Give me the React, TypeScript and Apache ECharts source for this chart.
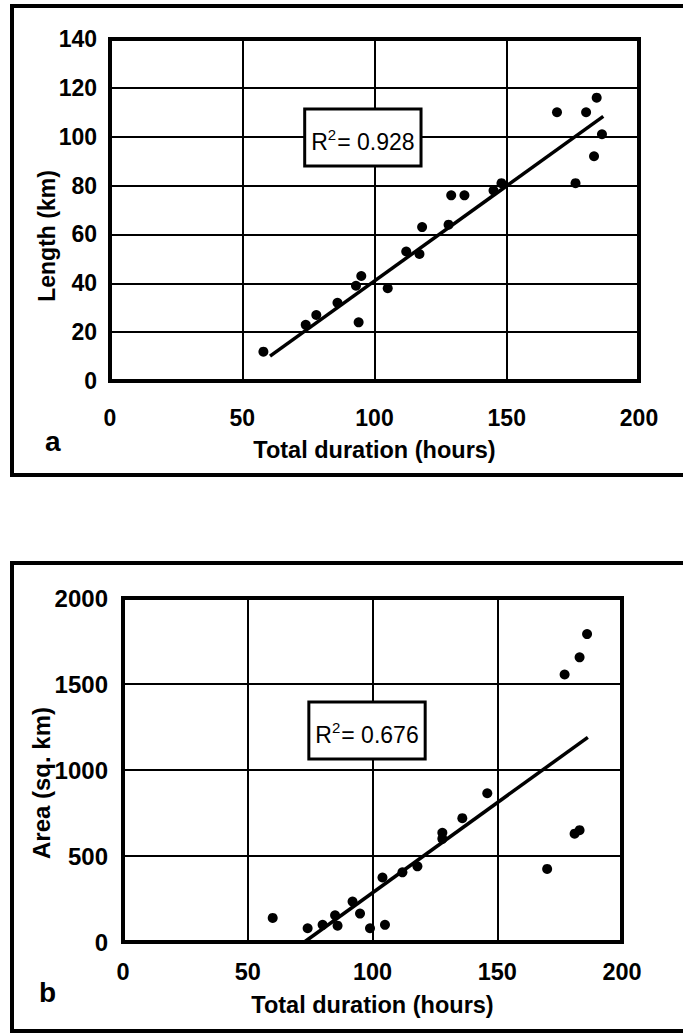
import React, { useEffect, useRef } from "react";
import * as echarts from "echarts";

// ---- Data ----
const xAxisTitle = "Total duration (hours)";
const yTitleA = "Length (km)";
const yTitleB = "Area (sq. km)";
const panelA = "a";
const panelB = "b";

// Panel a: total duration (hours) vs length (km)
const durA = [58, 74, 78, 86, 93, 95, 94, 105, 112, 117, 118, 128, 129, 134, 145, 148, 169, 180, 184, 186, 183, 176];
const lenA = [12, 23, 27, 32, 39, 43, 24, 38, 53, 52, 63, 64, 76, 76, 78, 81, 110, 110, 116, 101, 92, 81];
const trendAx = [60.5, 186.5];
const trendAy = [10.2, 108.3];
const r2A = "0.928";
const r2AAt = [95.6, 99.7];

// Panel b: total duration (hours) vs area (sq. km)
const durB = [60, 74, 80, 85, 86, 92, 95, 99, 105, 104, 112, 118, 128, 128, 136, 146, 170, 181, 183, 177, 183, 186];
const areaB = [140, 80, 100, 155, 95, 235, 165, 80, 100, 375, 405, 440, 600, 635, 720, 865, 425, 630, 650, 1555, 1655, 1790];
const trendBx = [72.7, 186.3];
const trendBy = [0, 1190];
const r2B = "0.676";
const r2BAt = [97.8, 1230];

const xMin = 0, xMax = 200, xStep = 50;
const yAMin = 0, yAMax = 140, yAStep = 20;
const yBMin = 0, yBMax = 2000, yBStep = 500;

const BOLD = '"Liberation Sans", Arial, sans-serif';
const SANS = '"Liberation Sans", Arial, sans-serif';

function pairs(xs: number[], ys: number[]) {
  return xs.map((x, i) => [x, ys[i]]);
}

const plain = (v: number) => String(v);

function xAxis(gridIndex: number, margin: number, nameGap: number, fs: number) {
  return {
    type: "value",
    gridIndex,
    min: xMin,
    max: xMax,
    interval: xStep,
    name: xAxisTitle,
    nameLocation: "middle",
    nameGap,
    nameMoveOverlap: false,
    nameTextStyle: { fontFamily: BOLD, fontWeight: "bold", fontSize: 23.5, color: "#000" },
    axisLine: { show: true, onZero: false, lineStyle: { color: "#000", width: 4 } },
    axisTick: { show: false },
    axisLabel: { margin, fontFamily: BOLD, fontWeight: "bold", fontSize: fs, color: "#000", formatter: plain },
    splitLine: { show: true, lineStyle: { color: "#000", width: 2 } },
  };
}

function yAxis(gridIndex: number, min: number, max: number, step: number, name: string, margin: number, nameGap: number, namePad: number[], fs: number, nfs: number) {
  return {
    type: "value",
    gridIndex,
    min,
    max,
    interval: step,
    name,
    nameLocation: "middle",
    nameRotate: 90,
    nameGap,
    nameMoveOverlap: false,
    nameTextStyle: { fontFamily: BOLD, fontWeight: "bold", fontSize: nfs, color: "#000", padding: namePad },
    axisLine: { show: true, onZero: false, lineStyle: { color: "#000", width: 4 } },
    axisTick: { show: false },
    axisLabel: { margin, fontFamily: BOLD, fontWeight: "bold", fontSize: fs, color: "#000", formatter: plain },
    splitLine: { show: true, lineStyle: { color: "#000", width: 2 } },
  };
}

function r2Series(idx: number, at: number[], value: string) {
  return {
    type: "scatter",
    xAxisIndex: idx,
    yAxisIndex: idx,
    symbolSize: 0,
    silent: true,
    z: 10,
    data: [at],
    itemStyle: { opacity: 1 },
    label: {
      show: true,
      position: "inside",
      opacity: 1,
      formatter: "{r|R}{s|2}{t|= " + value + "}",
      backgroundColor: "#fff",
      borderColor: "#000",
      borderWidth: 3,
      padding: [17, 5, 11, 5],
      rich: {
        r: { fontFamily: SANS, fontSize: 23, color: "#000", lineHeight: 26, verticalAlign: "bottom" },
        s: { fontFamily: SANS, fontSize: 15, color: "#000", lineHeight: 15, padding: [0, 1, 24, 0], verticalAlign: "top" },
        t: { fontFamily: SANS, fontSize: 23, color: "#000", lineHeight: 26, verticalAlign: "bottom" },
      },
    },
  };
}

export default function App() {
  const ref = useRef<HTMLDivElement>(null);
  useEffect(() => {
    const chart = echarts.init(ref.current!, null, { renderer: "svg" });
    const option: any = {
      animation: false,
      backgroundColor: "#fff",
      grid: [
        { left: 110, top: 39, width: 529, height: 342, show: true, borderColor: "#000", borderWidth: 4, containLabel: false },
        { left: 123, top: 598, width: 499, height: 344, show: true, borderColor: "#000", borderWidth: 4, containLabel: false },
      ],
      xAxis: [xAxis(0, 25, 57, 23), xAxis(1, 18, 51, 23.5)],
      yAxis: [
        yAxis(0, yAMin, yAMax, yAStep, yTitleA, 13, 52, [0, 52, 0, 0], 23, 23),
        yAxis(1, yBMin, yBMax, yBStep, yTitleB, 15, 70, [0, 26, 0, 0], 24, 24),
      ],
      graphic: [
        { type: "rect", shape: { x: 12, y: 6, width: 700, height: 469 }, style: { fill: "none", stroke: "#000", lineWidth: 4 } },
        { type: "rect", shape: { x: 12, y: 563, width: 700, height: 468 }, style: { fill: "none", stroke: "#000", lineWidth: 4 } },
        { type: "text", left: 45, top: 427, style: { text: panelA, fontFamily: BOLD, fontWeight: "bold", fontSize: 28, fill: "#000" } },
        { type: "text", left: 39, top: 978, style: { text: panelB, fontFamily: BOLD, fontWeight: "bold", fontSize: 28, fill: "#000" } },
      ],
      series: [
        {
          type: "line",
          xAxisIndex: 0,
          yAxisIndex: 0,
          data: pairs(trendAx, trendAy),
          symbol: "none",
          lineStyle: { color: "#000", width: 3.5, opacity: 1 },
          z: 3,
        },
        {
          type: "scatter",
          xAxisIndex: 0,
          yAxisIndex: 0,
          data: pairs(durA, lenA),
          symbolSize: 10,
          itemStyle: { color: "#000", opacity: 1 },
          z: 4,
        },
        r2Series(0, r2AAt, r2A),
        {
          type: "line",
          xAxisIndex: 1,
          yAxisIndex: 1,
          data: pairs(trendBx, trendBy),
          symbol: "none",
          lineStyle: { color: "#000", width: 3.5, opacity: 1 },
          z: 3,
        },
        {
          type: "scatter",
          xAxisIndex: 1,
          yAxisIndex: 1,
          data: pairs(durB, areaB),
          symbolSize: 10,
          itemStyle: { color: "#000", opacity: 1 },
          z: 4,
        },
        r2Series(1, r2BAt, r2B),
      ],
    };
    chart.setOption(option);
    return () => chart.dispose();
  }, []);
  return (
    <div
      ref={ref}
      style={{ position: "absolute", left: 0, top: 0, width: 683, height: 1033, background: "#fff" }}
    />
  );
}
